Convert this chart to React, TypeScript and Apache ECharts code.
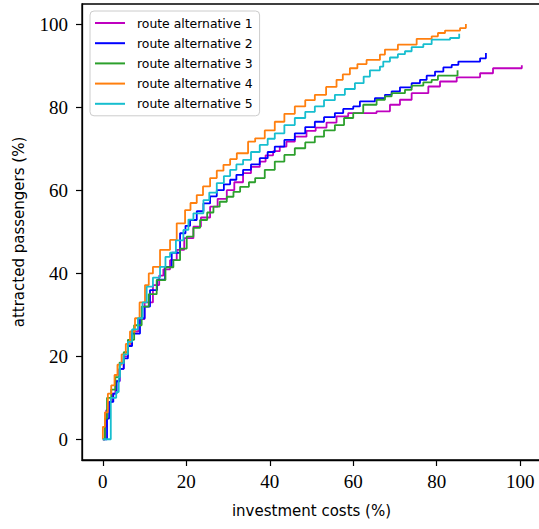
import React, { useEffect, useRef } from "react";
import * as echarts from "echarts";

const seriesNames = [
  "route alternative 1",
  "route alternative 2",
  "route alternative 3",
  "route alternative 4",
  "route alternative 5",
];
const seriesColors = ["#bf00bf", "#0000ff", "#2ca02c", "#ff7f0e", "#17becf"];
const tickValues = [0, 20, 40, 60, 80, 100];

const route1 = [
  [0, 0], [0.5, 3], [0.8, 7], [1.5, 9], [2.2, 11], [3, 14], [4, 17], [5, 20], [6, 23], [7, 26],
  [8.5, 29], [10, 33], [12, 37.2], [13.5, 39.5], [14.5, 41], [16.1, 43.2], [17.7, 45.7], [19.5, 48.5],
  [21.7, 51.3], [23.5, 53.5], [25.7, 56.1], [27.5, 58], [29.7, 60.1], [31.5, 62], [33.6, 64.2],
  [35.5, 65.7], [37.6, 67], [39, 68.5], [40.8, 69.5], [42.4, 70.6], [44, 71.8], [46, 73], [48.8, 74.4],
  [51, 75.2], [53.6, 76.4], [56, 77.9], [58.8, 78.7], [65.6, 79.1], [68.8, 80.7], [71.2, 81.9],
  [74, 83.5], [78, 85.1], [80.8, 86.3], [84.8, 87.3], [90.4, 88.3], [93.5, 89.5], [100.4, 90.2],
];
const route2 = [
  [0, 0], [1, 5], [1.5, 9], [2.5, 11], [3.3, 14], [4, 17], [5, 19.5], [6, 22.5], [7, 25.5], [8.9, 29.2],
  [10, 32], [11.3, 36], [13, 38.5], [14.9, 41.6], [16.5, 45], [18.5, 49.7], [19.8, 51.5], [20.9, 52.9],
  [22.5, 55], [24.1, 56.9], [25.7, 58.6], [27.3, 60.1], [29, 61.5], [30.5, 62.6], [32, 63.8],
  [33.6, 65], [35.5, 66.3], [37.6, 67.8], [39.5, 69.3], [41.2, 70.6], [43.5, 72.2], [46, 73.8],
  [48.5, 75.3], [50.8, 76.6], [53, 77.7], [55.6, 78.7], [57.6, 79.7], [60, 80.3], [61.6, 81.5],
  [65.2, 82.3], [67.6, 83.1], [69.2, 83.9], [71.2, 84.9], [74, 85.9], [76, 86.7], [77.6, 87.7],
  [79.6, 88.7], [81.6, 89.7], [83.6, 90.3], [85.2, 91.1], [90.4, 91.9], [91.8, 93.2],
];
const route3 = [
  [0, 0], [0.5, 5], [1, 10], [2, 12], [3, 15], [4, 18.5], [5, 21], [6, 24], [7.5, 27.5], [9.3, 32],
  [11, 35], [12.9, 38.4], [15, 41.5], [16.9, 43.2], [18.5, 46], [20.1, 48.9], [21.7, 51], [23.3, 52.9],
  [25, 54.7], [26.5, 56.1], [28, 57.3], [29.7, 58.5], [31.3, 59.7], [32.9, 60.9], [35, 62], [36.5, 63],
  [38.8, 65], [41.2, 67], [43.5, 68.6], [46, 70.2], [48.5, 71.6], [50.8, 73], [53, 74.5], [55.6, 75.8],
  [57.8, 77.5], [60, 78.7], [62.4, 80.7], [65.6, 81.9], [67.6, 82.7], [69.2, 83.5], [72.4, 84.3],
  [74, 85.3], [76.8, 86.1], [78.8, 86.7], [80.3, 87.7], [85, 89],
];
const route4 = [
  [0, 0], [0, 3], [0.5, 6.5], [1.2, 11], [2, 13], [2.8, 15.5], [3.5, 18], [4.5, 20.5], [5.5, 23],
  [6.5, 26], [7.7, 29.2], [8.8, 33], [10.1, 37.2], [11, 40], [12, 41.6], [13.7, 45.7], [16.1, 48.1],
  [17.7, 52.1], [19.7, 55.3], [21, 57], [22.5, 58.9], [24, 61], [25.7, 63], [27.3, 64.8], [28.9, 66.2],
  [30.5, 67.6], [32.1, 69], [34.8, 71.8], [36.5, 72.6], [38.8, 74.5], [41.2, 76.6], [43.5, 78.5],
  [46, 80.3], [48.5, 81.8], [50.8, 83.1], [53.5, 85], [56, 86.7], [57.5, 88], [59.2, 89.5], [61, 90.5],
  [63.2, 91.5], [66.4, 92.8], [67.6, 94], [70.7, 95.2], [75.2, 96.6], [78.8, 97.2], [80.3, 98],
  [82, 98.6], [85.6, 99.2], [87, 100.2],
];
const route5 = [
  [0, 0], [1.9, 10], [3.2, 11.4], [3.8, 15], [4.1, 18.3], [5, 20.5], [6, 23.5], [7, 26.5], [8.4, 29.2],
  [9.5, 33], [10.5, 36.8], [12, 39], [13.7, 41.6], [15, 44], [16.1, 45], [17.5, 48], [19.3, 50.5],
  [20.5, 53], [21.7, 54.5], [24.1, 57.7], [25.5, 59.5], [27.3, 61.8], [29, 63.5], [30.5, 65], [32, 66.3],
  [33.6, 67.4], [35.5, 69.3], [37.6, 71], [39.5, 72.5], [41.2, 73.8], [43.5, 75.8], [46, 77.5],
  [48.5, 79], [50.8, 80.3], [53, 81.8], [55.6, 83.1], [58, 84.5], [60.4, 85.9], [62.5, 87.5], [64, 89],
  [66.4, 89.9], [67.2, 91.1], [68.8, 92.1], [70.7, 92.9], [72.4, 93.6], [74, 94.6], [76.8, 95.3],
  [78.8, 96.4], [83.2, 96.8], [85.4, 97.8],
];
const allRoutes = [route1, route2, route3, route4, route5];

export default function App() {
  const ref = useRef<HTMLDivElement>(null);
  useEffect(() => {
    if (!ref.current) return;
    const chart = echarts.init(ref.current, null, { renderer: "svg" });
    const tickFont = { fontFamily: "Liberation Serif", fontSize: 19, color: "#000" };
    chart.setOption({
      animation: false,
      backgroundColor: "#fff",
      grid: {
        left: 82,
        right: -2,
        top: 4,
        bottom: 69,
        show: true,
        borderColor: "#000",
        borderWidth: 1.3,
        outerBoundsMode: "none",
      },
      legend: {
        orient: "vertical",
        left: 90,
        top: 11,
        padding: [5, 7, 5, 5],
        itemGap: 6.2,
        itemWidth: 30,
        itemHeight: 2,
        icon: "rect",
        backgroundColor: "rgba(255,255,255,0.8)",
        borderColor: "#cccccc",
        borderWidth: 1,
        borderRadius: 4,
        data: seriesNames,
        textStyle: {
          fontFamily: "DejaVu Sans",
          fontSize: 12.4,
          color: "#000",
          lineHeight: 14,
          padding: [0, 0, 0, 7],
        },
      },
      xAxis: {
        type: "value",
        min: -5,
        max: 105,
        name: "investment costs (%)",
        nameLocation: "middle",
        nameGap: 43,
        nameTextStyle: { fontFamily: "DejaVu Sans", fontSize: 15, color: "#000" },
        splitLine: { show: false },
        axisLine: { show: true, onZero: false, lineStyle: { color: "#000", width: 1.3 } },
        axisTick: { show: true, customValues: tickValues, length: 6, lineStyle: { color: "#000", width: 1.2 } },
        axisLabel: { customValues: tickValues, margin: 12, ...tickFont },
      },
      yAxis: {
        type: "value",
        min: -5,
        max: 105,
        name: "attracted passengers (%)",
        nameLocation: "middle",
        nameGap: 56,
        nameTextStyle: { fontFamily: "DejaVu Sans", fontSize: 15, color: "#000" },
        splitLine: { show: false },
        axisLine: { show: true, onZero: false, lineStyle: { color: "#000", width: 1.3 } },
        axisTick: { show: true, customValues: tickValues, length: 6, lineStyle: { color: "#000", width: 1.2 } },
        axisLabel: { customValues: tickValues, margin: 14, ...tickFont },
      },
      series: allRoutes.map((d, i) => ({
        name: seriesNames[i],
        type: "line",
        step: "end",
        data: d,
        showSymbol: false,
        symbol: "none",
        color: seriesColors[i],
        lineStyle: { color: seriesColors[i], width: 1.8 },
      })),
    });
    return () => chart.dispose();
  }, []);
  return (
    <div
      ref={ref}
      style={{ position: "fixed", left: 0, top: 0, width: 539, height: 529, background: "#fff" }}
    />
  );
}
